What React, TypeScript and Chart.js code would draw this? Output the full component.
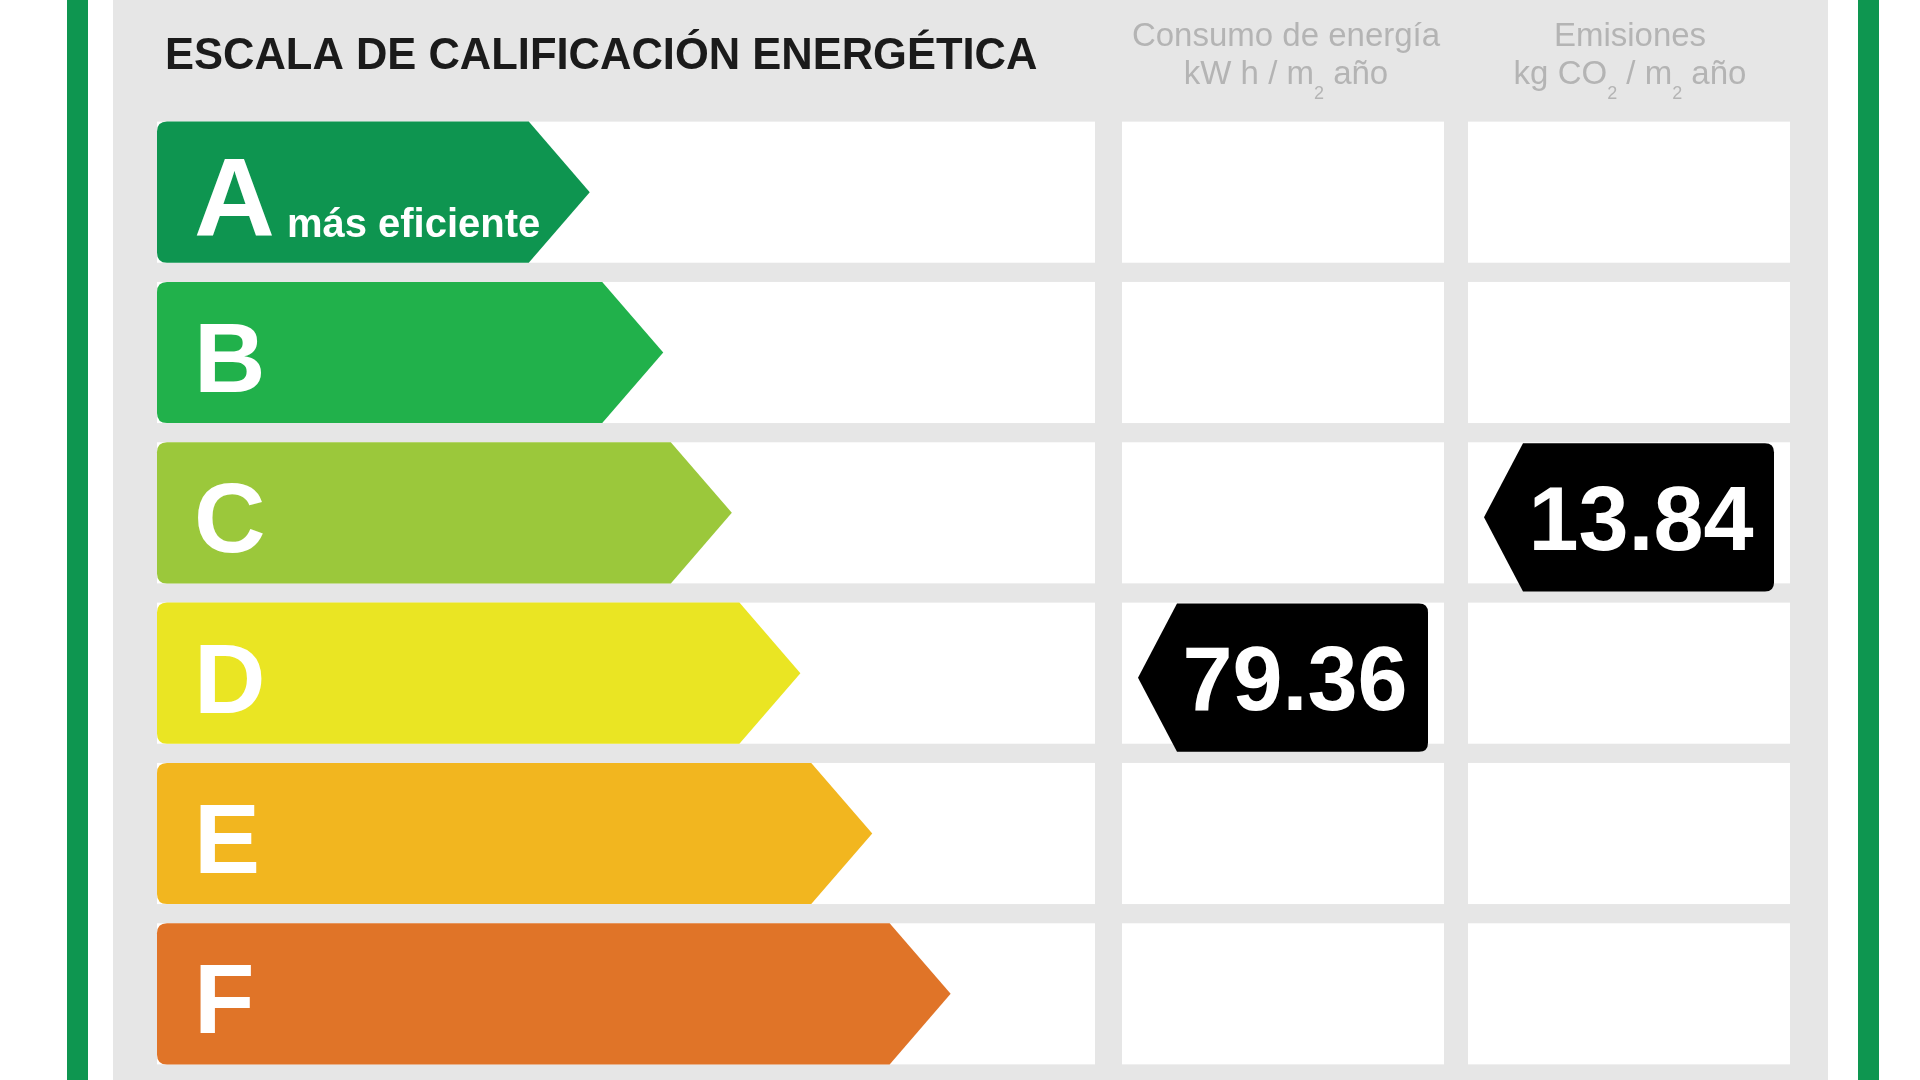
import { useEffect, useRef } from 'react';
import { Chart, registerables } from 'chart.js';

Chart.register(...registerables);

// ---- data ----
const categories = ['A', 'B', 'C', 'D', 'E', 'F'];
const barLengths = [26.5, 31.0, 35.2, 39.4, 43.8, 48.6];
const barColors = ['#0e9550', '#21b14b', '#9bc83b', '#eae523', '#f2b61f', '#e07428'];
const barSubtitles = ['más eficiente', '', '', '', '', ''];
const titleText = 'ESCALA DE CALIFICACIÓN ENERGÉTICA';
const consumoHeader = ['Consumo de energía', 'kW h / m', '2', ' año'];
const emisionesHeader = ['Emisiones', 'kg CO', '2', ' / m', '2', ' año'];
const consumoValue = [79.36];
const consumoRating = ['D'];
const emisionesValue = [13.84];
const emisionesRating = ['C'];

// ---- layout / style ----
const W = 1920;
const H = 1080;
const FRAME_GREEN = '#0e9650';
const PANEL = '#e6e6e6';
const HEADER_GRAY = '#b4b4b4';
const FONT = '"Liberation Sans", Arial, sans-serif';
const BAR_COL_RIGHT = 1095;
const COL2 = [1122, 1444];
const COL3 = [1468, 1790];
const ARROW_DEPTH = 61;

function roundLeftArrow(ctx: CanvasRenderingContext2D, x0: number, tip: number, top: number, bottom: number, r: number) {
  const mid = (top + bottom) / 2;
  const bodyEnd = tip - ARROW_DEPTH;
  ctx.beginPath();
  ctx.moveTo(x0 + r, top);
  ctx.lineTo(bodyEnd, top);
  ctx.lineTo(tip, mid);
  ctx.lineTo(bodyEnd, bottom);
  ctx.lineTo(x0 + r, bottom);
  ctx.quadraticCurveTo(x0, bottom, x0, bottom - r);
  ctx.lineTo(x0, top + r);
  ctx.quadraticCurveTo(x0, top, x0 + r, top);
  ctx.closePath();
}

function markerPath(ctx: CanvasRenderingContext2D, left: number, right: number, top: number, bottom: number) {
  const mid = (top + bottom) / 2;
  const d = 39;
  const r = 9;
  ctx.beginPath();
  ctx.moveTo(left + d, top);
  ctx.lineTo(right - r, top);
  ctx.quadraticCurveTo(right, top, right, top + r);
  ctx.lineTo(right, bottom - r);
  ctx.quadraticCurveTo(right, bottom, right - r, bottom);
  ctx.lineTo(left + d, bottom);
  ctx.lineTo(left, mid);
  ctx.closePath();
}

function drawPieces(ctx: CanvasRenderingContext2D, pieces: string[], cx: number, y: number, size: number) {
  // pieces alternate: normal, subscript, normal, subscript, ...
  const normalFont = `${size}px ${FONT}`;
  const subFont = `${Math.round(size * 0.55)}px ${FONT}`;
  let total = 0;
  const widths = pieces.map((p, i) => {
    ctx.font = i % 2 === 1 ? subFont : normalFont;
    const w = ctx.measureText(p).width;
    total += w;
    return w;
  });
  let x = cx - total / 2;
  pieces.forEach((p, i) => {
    const sub = i % 2 === 1;
    ctx.font = sub ? subFont : normalFont;
    ctx.fillText(p, x, sub ? y + size * 0.45 : y);
    x += widths[i];
  });
}

const energyPlugin = {
  id: 'energyLabel',
  beforeDraw(chart: any) {
    const ctx: CanvasRenderingContext2D = chart.ctx;
    ctx.save();
    ctx.fillStyle = '#ffffff';
    ctx.fillRect(0, 0, W, H);
    ctx.fillStyle = FRAME_GREEN;
    ctx.fillRect(67, 0, 21, H);
    ctx.fillRect(1858, 0, 21, H);
    ctx.fillStyle = PANEL;
    ctx.fillRect(113, 0, 1828 - 113, H);

    // title
    ctx.fillStyle = '#1b1b1b';
    ctx.font = `bold 43.5px ${FONT}`;
    ctx.textBaseline = 'middle';
    ctx.textAlign = 'left';
    ctx.fillText(titleText, 165, 57);

    // column headers
    ctx.fillStyle = HEADER_GRAY;
    ctx.textBaseline = 'alphabetic';
    ctx.font = `33px ${FONT}`;
    ctx.textAlign = 'center';
    ctx.fillText(consumoHeader[0], (COL2[0] + COL2[1]) / 2 + 3, 46);
    ctx.textAlign = 'left';
    drawPieces(ctx, consumoHeader.slice(1), (COL2[0] + COL2[1]) / 2 + 3, 84, 33);
    ctx.font = `33px ${FONT}`;
    ctx.textAlign = 'center';
    ctx.fillText(emisionesHeader[0], (COL3[0] + COL3[1]) / 2 + 1, 46);
    ctx.textAlign = 'left';
    drawPieces(ctx, emisionesHeader.slice(1), (COL3[0] + COL3[1]) / 2 + 1, 84, 33);

    // white cells
    const meta = chart.getDatasetMeta(0);
    ctx.fillStyle = '#ffffff';
    meta.data.forEach((el: any) => {
      const top = el.y - el.height / 2;
      ctx.fillRect(chart.chartArea.left, top, BAR_COL_RIGHT - chart.chartArea.left, el.height);
      ctx.fillRect(COL2[0], top, COL2[1] - COL2[0], el.height);
      ctx.fillRect(COL3[0], top, COL3[1] - COL3[0], el.height);
    });
    ctx.restore();
  },
  beforeDatasetDraw() {
    return false;
  },
  afterDatasetsDraw(chart: any) {
    const ctx: CanvasRenderingContext2D = chart.ctx;
    const meta = chart.getDatasetMeta(0);
    ctx.save();
    meta.data.forEach((el: any, i: number) => {
      const top = el.y - el.height / 2;
      const bottom = el.y + el.height / 2;
      ctx.fillStyle = barColors[i];
      roundLeftArrow(ctx, el.base, el.x, top, bottom, 10);
      ctx.fill();
      // letter
      ctx.fillStyle = '#ffffff';
      ctx.textAlign = 'left';
      ctx.textBaseline = 'alphabetic';
      const size = i === 0 ? 112 : 99;
      ctx.font = `bold ${size}px ${FONT}`;
      const baseline = el.y + (size * 0.716) / 2 + 4;
      ctx.fillText(categories[i], el.base + 37, baseline);
      if (barSubtitles[i]) {
        const lw = ctx.measureText(categories[i]).width;
        ctx.font = `bold 40px ${FONT}`;
        ctx.fillText(barSubtitles[i], el.base + 37 + lw + 12, baseline + 1);
      }
    });

    const drawMarker = (value: number, rating: string, col: number[]) => {
      const idx = categories.indexOf(rating);
      const el = meta.data[idx];
      const top = el.y - el.height / 2 + 1;
      const bottom = el.y + el.height / 2 + 8;
      const left = col[0] + 16;
      const right = col[1] - 16;
      ctx.fillStyle = '#000000';
      markerPath(ctx, left, right, top, bottom);
      ctx.fill();
      ctx.fillStyle = '#ffffff';
      ctx.font = `bold 90px ${FONT}`;
      ctx.textAlign = 'center';
      ctx.textBaseline = 'alphabetic';
      ctx.fillText(value.toFixed(2), (left + right) / 2 + 12, el.y + 90 * 0.716 / 2 + 5);
    };
    drawMarker(consumoValue[0], consumoRating[0], COL2);
    drawMarker(emisionesValue[0], emisionesRating[0], COL3);
    ctx.restore();
  },
};

export default function App() {
  const ref = useRef<HTMLCanvasElement>(null);
  useEffect(() => {
    const chart = new Chart(ref.current as HTMLCanvasElement, {
      type: 'bar',
      data: {
        labels: categories,
        datasets: [
          {
            data: barLengths,
            backgroundColor: barColors,
            categoryPercentage: 1,
            barPercentage: 0.88,
          },
        ],
      },
      options: {
        indexAxis: 'y',
        responsive: false,
        animation: false,
        devicePixelRatio: 1,
        layout: { padding: { left: 157, right: W - 1790, top: 112, bottom: H - 1074 } },
        scales: {
          x: { display: false, min: 0, max: 100 },
          y: { display: false },
        },
        plugins: { legend: { display: false }, tooltip: { enabled: false } },
      },
      plugins: [energyPlugin],
    } as any);
    return () => chart.destroy();
  }, []);
  return (
    <div style={{ position: 'fixed', left: 0, top: 0, width: W, height: H, background: '#fff' }}>
      <canvas ref={ref} width={W} height={H} style={{ width: W, height: H, display: 'block' }} />
    </div>
  );
}
